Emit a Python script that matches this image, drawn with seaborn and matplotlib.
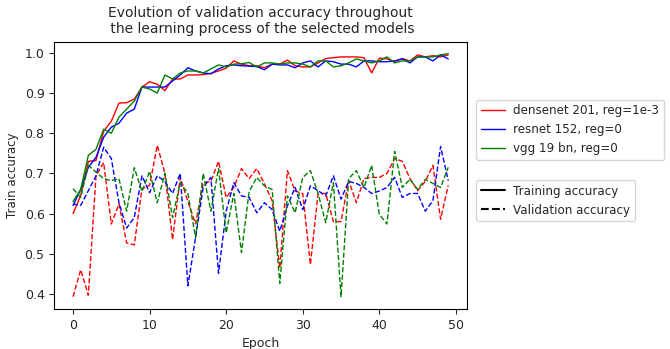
import numpy as np
import pandas as pd
import matplotlib
matplotlib.use('Agg')
import matplotlib.pyplot as plt
import seaborn as sns
from matplotlib.lines import Line2D

sns.set_style('ticks')
plt.rcParams['font.family'] = ['DejaVu Sans']

# data
epochs = list(range(50))
models = ['densenet 201, reg=1e-3', 'resnet 152, reg=0', 'vgg 19 bn, reg=0']
colors = ['red', 'blue', 'green']

train_densenet = [0.60, 0.645, 0.73, 0.732, 0.805, 0.83, 0.875, 0.876, 0.885, 0.915,
                  0.928, 0.922, 0.906, 0.935, 0.935, 0.945, 0.945, 0.946, 0.949, 0.955,
                  0.962, 0.98, 0.972, 0.968, 0.968, 0.963, 0.972, 0.972, 0.982, 0.968,
                  0.965, 0.965, 0.975, 0.986, 0.988, 0.99, 0.99, 0.99, 0.988, 0.95,
                  0.987, 0.985, 0.978, 0.986, 0.98, 0.995, 0.99, 0.993, 0.99, 0.995]
train_resnet = [0.62, 0.66, 0.715, 0.74, 0.79, 0.815, 0.825, 0.85, 0.86, 0.915,
                0.915, 0.915, 0.915, 0.93, 0.945, 0.963, 0.955, 0.95, 0.948, 0.96,
                0.968, 0.97, 0.968, 0.967, 0.966, 0.958, 0.972, 0.97, 0.97, 0.963,
                0.975, 0.98, 0.965, 0.98, 0.978, 0.972, 0.972, 0.965, 0.98, 0.98,
                0.978, 0.978, 0.98, 0.985, 0.975, 0.99, 0.99, 0.98, 0.995, 0.985]
train_vgg = [0.63, 0.66, 0.745, 0.76, 0.81, 0.80, 0.84, 0.86, 0.88, 0.915,
             0.91, 0.90, 0.945, 0.935, 0.95, 0.955, 0.955, 0.95, 0.96, 0.97,
             0.965, 0.972, 0.973, 0.976, 0.965, 0.975, 0.975, 0.972, 0.975, 0.975,
             0.972, 0.965, 0.98, 0.98, 0.965, 0.968, 0.975, 0.985, 0.98, 0.975,
             0.98, 0.99, 0.975, 0.98, 0.98, 0.99, 0.99, 0.99, 0.995, 0.998]

val_densenet = [0.393, 0.46, 0.397, 0.694, 0.727, 0.574, 0.624, 0.527, 0.522, 0.662,
                0.67, 0.77, 0.70, 0.535, 0.69, 0.63, 0.574, 0.677, 0.68, 0.73,
                0.64, 0.665, 0.712, 0.687, 0.712, 0.674, 0.632, 0.464, 0.707, 0.656,
                0.65, 0.473, 0.65, 0.65, 0.58, 0.58, 0.682, 0.627, 0.687, 0.69,
                0.69, 0.70, 0.737, 0.73, 0.687, 0.657, 0.68, 0.72, 0.586, 0.67]
val_resnet = [0.624, 0.62, 0.657, 0.694, 0.765, 0.737, 0.627, 0.564, 0.59, 0.694,
              0.652, 0.694, 0.68, 0.65, 0.70, 0.42, 0.54, 0.665, 0.69, 0.451,
              0.606, 0.677, 0.644, 0.64, 0.602, 0.627, 0.61, 0.556, 0.619, 0.665,
              0.61, 0.669, 0.657, 0.644, 0.694, 0.636, 0.68, 0.675, 0.665, 0.65,
              0.656, 0.665, 0.69, 0.64, 0.65, 0.65, 0.606, 0.632, 0.767, 0.682]
val_vgg = [0.662, 0.64, 0.72, 0.703, 0.687, 0.682, 0.687, 0.606, 0.714, 0.655,
           0.705, 0.627, 0.70, 0.59, 0.677, 0.65, 0.54, 0.70, 0.606, 0.712,
           0.552, 0.65, 0.503, 0.655, 0.69, 0.669, 0.66, 0.426, 0.644, 0.602,
           0.69, 0.707, 0.65, 0.577, 0.677, 0.393, 0.687, 0.707, 0.665, 0.72,
           0.598, 0.574, 0.755, 0.665, 0.685, 0.66, 0.685, 0.675, 0.665, 0.715]

train = [train_densenet, train_resnet, train_vgg]
val = [val_densenet, val_resnet, val_vgg]

fig, ax = plt.subplots(figsize=(6.7, 3.49), dpi=100)

for name, col, tr, va in zip(models, colors, train, val):
    sns.lineplot(x=epochs, y=tr, color=col, linewidth=1, ax=ax)
    sns.lineplot(x=epochs, y=va, color=col, linewidth=1, linestyle='--', ax=ax)

ax.set_title('Evolution of validation accuracy throughout\n the learning process of the selected models',
             fontsize=10)
ax.set_xlabel('Epoch', fontsize=9)
ax.set_ylabel('Train accuracy', fontsize=8.5)
ax.tick_params(labelsize=9)
ax.set_yticks([0.4, 0.5, 0.6, 0.7, 0.8, 0.9, 1.0])
for s in ax.spines.values():
    s.set_color('black')

# two separate legends on the right
model_handles = [Line2D([], [], color=c, linewidth=1) for c in colors]
leg1 = ax.legend(model_handles, models, loc='upper left', bbox_to_anchor=(1.008, 0.805),
                 fontsize=8.6, handlelength=2, handletextpad=0.7)
ax.add_artist(leg1)
style_handles = [Line2D([], [], color='black', linewidth=1.5),
                 Line2D([], [], color='black', linewidth=1.5, linestyle='--')]
ax.legend(style_handles, ['Training accuracy', 'Validation accuracy'], loc='upper left',
          bbox_to_anchor=(1.008, 0.505), fontsize=8.6, handlelength=2, handletextpad=0.7)

fig.subplots_adjust(left=0.081, right=0.697, top=0.881, bottom=0.115)
fig.savefig('out.png', dpi=100)
